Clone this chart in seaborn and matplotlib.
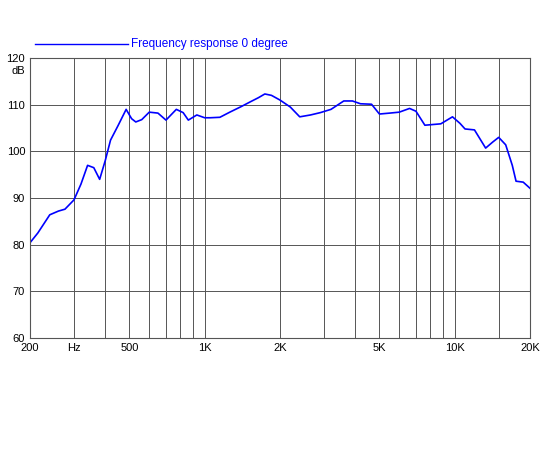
import numpy as np
import pandas as pd
import matplotlib
matplotlib.use('Agg')
import matplotlib.pyplot as plt
import seaborn as sns

# curve (Hz, dB)
freq = [200, 215, 240, 260, 276, 300, 320, 340, 360, 380, 400, 420, 450, 485, 510, 530, 560,
        600, 650, 700, 770, 820, 860, 930, 1000, 1050, 1150, 1260, 1400, 1520, 1640, 1740,
        1850, 2000, 2200, 2400, 2650, 2900, 3200, 3600, 3900, 4200, 4650, 5000, 5500, 6000,
        6600, 7000, 7600, 8800, 9800, 10500, 11000, 12000, 13300, 14200, 15000, 16000,
        17000, 17600, 18800, 20000]
level = [80.4, 82.5, 86.4, 87.2, 87.6, 89.6, 93.0, 97.0, 96.5, 94.0, 98.0, 102.4, 105.5, 109.0,
         107.0, 106.3, 106.8, 108.4, 108.2, 106.7, 109.0, 108.3, 106.7, 107.8, 107.2, 107.2,
         107.3, 108.4, 109.6, 110.6, 111.5, 112.3, 112.0, 111.0, 109.5, 107.4, 107.8, 108.3,
         109.0, 110.8, 110.8, 110.2, 110.1, 108.0, 108.2, 108.4, 109.2, 108.6, 105.6, 105.9,
         107.4, 106.0, 104.8, 104.6, 100.7, 102.0, 103.0, 101.4, 97.0, 93.6, 93.4, 92.1]
tick_pos = [200, 300, 500, 1000, 2000, 5000, 10000, 20000]
tick_lab = ['200', 'Hz', '500', '1K', '2K', '5K', '10K', '20K']
grid_x = [300, 400, 500, 600, 700, 800, 900, 1000, 2000, 3000, 4000, 5000, 6000, 7000,
          8000, 9000, 10000, 15000]

df = pd.DataFrame({'freq': freq, 'level': level})

plt.rcParams['font.family'] = ['Liberation Sans', 'DejaVu Sans']
fig = plt.figure(figsize=(5.5, 4.5), dpi=100)
ax = fig.add_axes([0.0545, 0.249, 0.909, 0.622])
ax.set_xscale('log')
sns.lineplot(data=df, x='freq', y='level', ax=ax, color='#0000ff', linewidth=1.2)
ax.set_xlim(200, 20000)
ax.set_ylim(60, 120)
for g in grid_x:
    ax.axvline(g, color='#555555', linewidth=0.7, zorder=0)
for v in range(70, 120, 10):
    ax.axhline(v, color='#555555', linewidth=0.7, zorder=0)
ax.set_xticks(tick_pos)
ax.set_xticklabels(tick_lab)
ax.xaxis.set_minor_locator(matplotlib.ticker.NullLocator())
ax.set_yticks(range(60, 121, 10))
ax.tick_params(length=0, labelsize=8)
ax.set_xlabel('')
ax.set_ylabel('')
for s in ax.spines.values():
    s.set_color('#555555')
    s.set_linewidth(0.8)
fig.text(0.02, 0.835, 'dB', fontsize=8)
fig.add_artist(plt.Line2D([35 / 550, 128 / 550], [1 - 44 / 450] * 2, color='#0000ff', linewidth=1))
fig.text(131 / 550, 1 - 44 / 450, 'Frequency response 0 degree', color='#0000ff',
         fontsize=8.5, va='center')
fig.savefig('out.png', dpi=100)
